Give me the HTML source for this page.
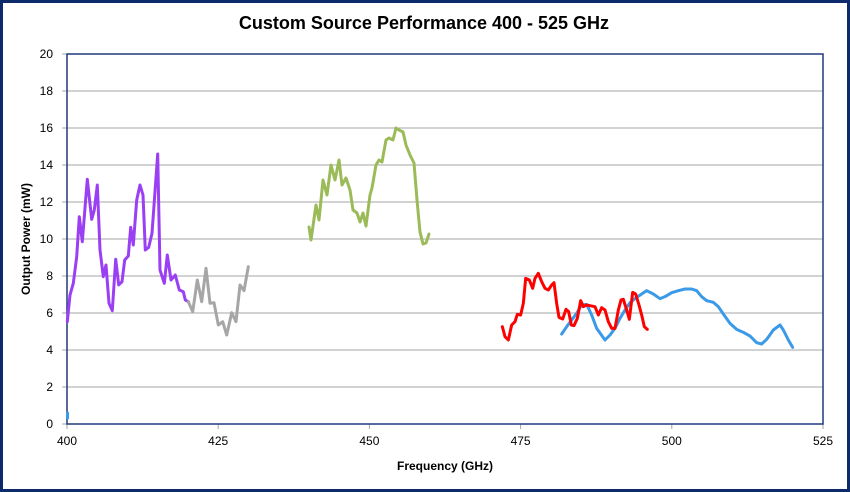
<!DOCTYPE html>
<html><head><meta charset="utf-8"><style>
html,body{margin:0;padding:0;background:#fff}
svg{display:block;font-family:"Liberation Sans",sans-serif}
</style></head><body>
<svg id="s" width="850" height="492" viewBox="0 0 850 492">
<rect x="1.5" y="1.5" width="847" height="489" fill="#fff" stroke="#0d2a6a" stroke-width="3"/>
<text x="424" y="29" text-anchor="middle" font-size="18" font-weight="bold" fill="#000">Custom Source Performance 400 - 525 GHz</text>
<g id="grid" stroke="#a6a6a6" stroke-width="1"></g>
<g id="lbl" font-size="12" fill="#000"></g>
<rect x="67" y="54" width="756" height="370" fill="none" stroke="#1f3a7a" stroke-width="1.5"/>
<text x="445" y="470" text-anchor="middle" font-size="12" font-weight="bold">Frequency (GHz)</text>
<text transform="translate(30,239) rotate(-90)" text-anchor="middle" font-size="12" font-weight="bold">Output Power (mW)</text>
<g id="lines" fill="none" stroke-width="3" stroke-linejoin="round" stroke-linecap="round"></g>
</svg>
<script>
var NS="http://www.w3.org/2000/svg";
function el(p,t,a,txt){var e=document.createElementNS(NS,t);for(var k in a)e.setAttribute(k,a[k]);if(txt!=null)e.textContent=txt;document.getElementById(p).appendChild(e);}
for(var v=0;v<=20;v+=2){var y=424-v*18.5;if(v>0)el("grid","line",{x1:67,x2:823,y1:y,y2:y});
el("grid","line",{x1:62,x2:67,y1:y,y2:y});
el("lbl","text",{x:53,y:y+4,"text-anchor":"end"},v);}
for(var f=400;f<=525;f+=25){var x=67+(f-400)*6.048;el("grid","line",{x1:x,x2:x,y1:424,y2:429});el("lbl","text",{x:x,y:445,"text-anchor":"middle"},f);}
function pl(pts,c){el("lines","polyline",{points:pts.map(function(p){return p[0]+","+p[1]}).join(" "),stroke:c});}
function tz(a,ox,oy){return a.map(function(p){return [ox+p[0]/3,oy+p[1]/3]});}
pl([[67.3,321.7],[70,295],[73.3,283.3],[76.7,256.7],[79.3,216.7],[82.3,241.7],[87.3,179.3],[91.7,219.3],[94.3,210],[97.3,185],[100,250],[103.3,276.7],[106,265],[109,303.3],[112.3,310.7],[115.7,259.3],[118.7,285],[122,281.7],[124.7,260],[128.3,256],[130.7,227.3],[133.3,245],[136.7,200],[140,185],[143,195],[145.3,250],[148.7,247.3],[152,233.3],[157.7,154],[160,270],[164.3,283.3],[167.3,255],[171,280],[175.3,275],[179.3,290],[183.3,291.7],[185.3,300],[188.3,301.7]],"#9b3ff5");
pl([[67.5,413],[67.5,418]],"#3b9ae8");
pl([[188.3,301.7],[192.7,311.7],[197.3,280],[201.7,301.7],[206,268.3],[210,303.3],[214,302.7],[218.3,325],[222.7,321.7],[226.7,335],[231.7,312.7],[236,321.7],[240,285],[244,290.7],[248.3,266.7]],"#a6a6a6");
pl([[309,227],[311,240],[316,205],[319,220],[323,180],[327,195],[331,165],[335,180],[339,160],[342,185],[346,178],[350,190],[353,210],[357,213],[360,222],[363,213],[366,226],[370,195],[372,188],[376,165],[379,160],[382,162],[386,140],[389,138],[393,140],[396,128],[399,130],[403,132],[406,145],[410,155],[414,163],[417,200],[420,232],[423,244],[426,243],[429,234]],"#9bbb59");
pl(tz([[215,222],[230,200],[245,180],[260,160],[275,135],[290,133],[305,165],[320,205],[345,240],[360,225],[375,205],[390,175],[405,150],[420,128],[440,112],[470,92],[490,102],[510,116],[525,110],[545,98],[565,92],[585,87],[605,87],[620,92],[635,110],[650,122],[670,127],[685,140],[700,162],[720,190],[740,208],[760,217],[780,228],[800,248],[815,252],[830,238],[850,210],[870,195],[880,210],[895,240],[908,262]],490,260),"#3b9ae8");
pl(tz([[37,200],[45,230],[55,240],[65,195],[75,185],[82,163],[92,165],[100,130],[107,55],[118,60],[128,85],[135,55],[145,40],[155,65],[165,85],[175,90],[185,75],[192,68],[200,130],[207,172],[218,177],[228,148],[236,155],[244,195],[252,197],[262,175],[272,122],[280,140],[290,135],[300,137],[315,140],[325,165],[335,143],[345,150],[355,185],[365,205],[375,205],[385,150],[393,120],[400,118],[410,150],[418,178],[428,97],[437,102],[447,135],[455,165],[463,200],[472,208]],490,260),"#f00");
</script>
</body></html>
